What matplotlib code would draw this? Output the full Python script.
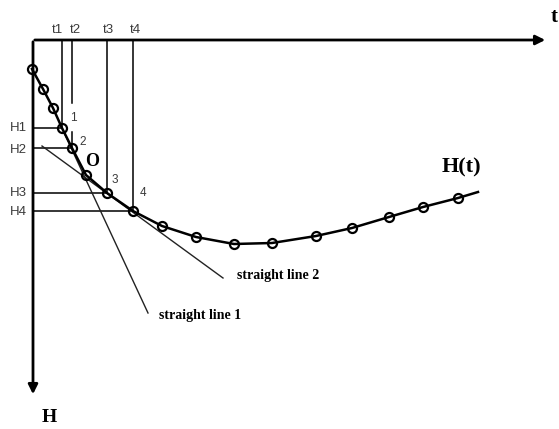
import matplotlib.pyplot as plt

plt.rcParams['font.family'] = ['Liberation Serif', 'DejaVu Serif']

# H(t) curve samples (t grows to the right, H grows downward)
t_vals = [32, 43, 53, 62, 72, 86, 107, 133, 162, 196, 234, 272, 316, 352, 389, 423, 458]
H_vals = [69, 89, 108, 128, 148, 175, 193, 211, 226, 237, 244, 243, 236, 228, 217, 207, 198]
tail_t, tail_H = 478, 192

# reference points 1..4 on the curve and the point O
ref_idx = [3, 4, 6, 7]
ref_names = ['1', '2', '3', '4']
o_idx = 5

# two straight lines (start, end)
line1_t = [60, 148]
line1_H = [124, 313]
line2_t = [42, 223]
line2_H = [146, 278]

t0, H0 = 33, 40

fig = plt.figure(figsize=(5.59, 4.29), dpi=100)
ax = fig.add_axes([0, 0, 1, 1])
ax.set_xlim(0, 559)
ax.set_ylim(429, 0)
ax.axis('off')

# axes with arrows
ax.annotate('', xy=(548, H0), xytext=(t0 - 1, H0),
            arrowprops=dict(arrowstyle='-|>', lw=2, color='black', mutation_scale=14))
ax.annotate('', xy=(t0, 397), xytext=(t0, H0 - 1),
            arrowprops=dict(arrowstyle='-|>', lw=2, color='black', mutation_scale=14))
ax.text(551, 17, 't', fontsize=15, fontweight='bold', ha='left', va='center')
ax.text(42, 418, 'H', fontsize=14, fontweight='bold', ha='left', va='center')

lab = dict(fontsize=9.5, color='#3a3a3a', family='Liberation Sans', ha='center', va='center')

# drop lines to the axes
for k, i in enumerate(ref_idx):
    t, H = t_vals[i], H_vals[i]
    if k == 1:
        ax.plot([t, t], [H0, 103], color='black', lw=1.1)
        ax.plot([t, t], [132, H], color='black', lw=1.1)
    else:
        ax.plot([t, t], [H0, H], color='black', lw=1.1)
    ax.plot([t0, t], [H, H], color='black', lw=1.1)
    ax.text(t + [-5, 3, 1, 2][k], 30, 't%d' % (k + 1), **lab)
    ax.text(18, H + [0, 2, 0, 1][k], 'H%d' % (k + 1), **lab)

point_offsets = [(11, -10), (11, -6), (8, -13), (10, -18)]
for name, i, (dx, dy) in zip(ref_names, ref_idx, point_offsets):
    ax.text(t_vals[i] + dx, H_vals[i] + dy, name, **dict(lab, fontsize=8.5))

# straight lines
ax.plot(line1_t, line1_H, color='#222222', lw=1)
ax.plot(line2_t, line2_H, color='#222222', lw=1)
ax.text(159, 315, 'straight line 1', fontsize=10, fontweight='bold', ha='left', va='center')
ax.text(237, 276, 'straight line 2', fontsize=10, fontweight='bold', ha='left', va='center')

# H(t) curve
ax.plot(t_vals + [tail_t], H_vals + [tail_H], color='black', lw=1.8, zorder=3)
ax.plot(t_vals, H_vals, 'o', ms=6.5, mfc='none', mec='black', mew=1.6, zorder=4)
ax.text(t_vals[o_idx] + 6, H_vals[o_idx] - 13, 'O', fontsize=13, fontweight='bold',
        ha='center', va='center')
ax.text(442, 167, 'H(t)', fontsize=16, fontweight='bold', ha='left', va='center')

fig.savefig('out.png', dpi=100)
plt.close('all')
